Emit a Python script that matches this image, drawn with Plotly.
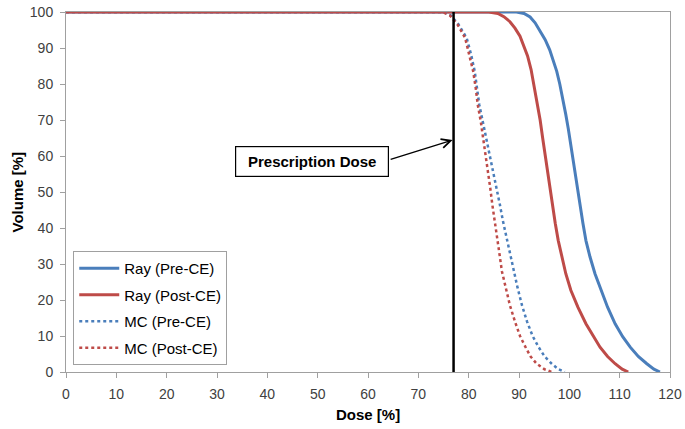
import plotly.graph_objects as go

# Dose-volume data
ray_pre_dose = [0, 89.5, 91.0, 92.2, 93.2, 94.2, 95.2, 96.1, 96.8, 97.5, 98.1, 98.7, 99.3, 99.8, 100.3, 100.8,
                101.3, 101.7, 102.2, 102.7, 103.3, 104.1, 105.1, 106.3, 107.6, 109.1, 110.6, 112.1, 113.7,
                115.4, 116.8, 118.0]
ray_pre_vol = [100, 100, 99.6, 98.6, 97.0, 94.8, 92.3, 89.5, 86.8, 83.5, 80.0, 76.0, 71.5, 67.5, 63.0, 58.0,
               53.0, 49.0, 45.0, 41.3, 36.5, 32.0, 27.3, 22.7, 18.0, 13.4, 9.8, 6.9, 4.3,
               2.3, 0.8, 0]

ray_post_dose = [0, 84.0, 85.8, 87.0, 88.2, 89.2, 90.2, 91.0, 91.7, 92.4, 93.0, 93.6, 94.2, 94.7, 95.2, 95.7,
                 96.2, 96.7, 97.2, 97.8, 98.5, 99.3, 100.3, 101.7, 103.3, 104.7, 106.1, 107.6, 109.1,
                 110.5, 111.7]
ray_post_vol = [100, 100, 99.6, 98.7, 97.3, 95.5, 93.3, 90.5, 87.8, 84.0, 79.5, 75.0, 70.0, 65.0, 60.3, 55.0,
                50.0, 45.5, 41.3, 36.5, 32.0, 27.3, 22.7, 18.0, 13.4, 10.0, 6.9, 4.3, 2.3,
                0.8, 0]

mc_pre_dose = [0, 75.0, 76.5, 78.0, 79.6, 80.5, 81.2, 81.7, 82.1, 82.8, 83.5, 84.1, 84.8, 85.5, 86.2, 86.8,
               87.5, 88.2, 88.9, 89.7, 90.6, 91.6, 92.7, 93.9, 95.1, 96.5, 97.8, 99.1]
mc_pre_vol = [100, 100, 99.0, 96.5, 92.8, 88.1, 83.5, 78.9, 74.3, 69.6, 65.0, 60.3, 55.7, 51.0, 46.5, 42.0,
              37.5, 33.0, 28.0, 23.5, 18.5, 14.0, 10.0, 6.9, 4.3, 2.3, 0.8, 0]

mc_post_dose = [0, 74.8, 76.3, 77.8, 79.3, 80.1, 80.9, 81.4, 81.8, 82.4, 82.9, 83.4, 83.8, 84.3, 84.7, 85.2,
                85.6, 86.1, 86.6, 87.3, 88.2, 89.2, 90.2, 91.3, 92.3, 93.5, 95.0, 96.5]
mc_post_vol = [100, 100, 99.0, 96.5, 92.8, 88.1, 83.5, 78.9, 74.3, 69.6, 65.0, 60.3, 55.7, 51.0, 46.5, 42.0,
               37.5, 33.0, 28.0, 23.5, 18.5, 14.0, 10.0, 6.9, 4.3, 2.3, 0.8, 0]

prescription_dose = 77
arrow_head_vol = 64.5
label_text = "Prescription Dose"
label_dose, label_vol = 48.9, 58.5
arrow_tail_dose, arrow_tail_vol = 64.2, 58.9
x_ticks = list(range(0, 121, 10))
y_ticks = list(range(0, 101, 10))
x_title = "Dose [%]"
y_title = "Volume [%]"

BLUE = "#4A7EBB"
RED = "#BE4B48"
FONT = "Liberation Sans"

fig = go.Figure()
fig.add_trace(go.Scatter(x=ray_pre_dose, y=ray_pre_vol, mode="lines", name="Ray (Pre-CE)", legendgroup="a",
                         line=dict(color=BLUE, width=3)))
fig.add_trace(go.Scatter(x=ray_post_dose, y=ray_post_vol, mode="lines", name="Ray (Post-CE)", legendgroup="b",
                         line=dict(color=RED, width=3)))
fig.add_trace(go.Scatter(x=mc_pre_dose, y=mc_pre_vol, mode="lines", name="MC (Pre-CE)", legendgroup="c",
                         line=dict(color=BLUE, width=2.5, dash="dot")))
fig.add_trace(go.Scatter(x=mc_post_dose, y=mc_post_vol, mode="lines", name="MC (Post-CE)", legendgroup="d",
                         line=dict(color=RED, width=2.5, dash="dot")))

fig.add_shape(type="line", xref="x", yref="y", x0=prescription_dose, x1=prescription_dose,
              y0=0, y1=100, line=dict(color="black", width=2.5))

fig.add_annotation(x=prescription_dose, y=arrow_head_vol, ax=arrow_tail_dose, ay=arrow_tail_vol,
                   xref="x", yref="y", axref="x", ayref="y",
                   showarrow=True, arrowhead=5, arrowsize=1.4, arrowwidth=1.3, arrowcolor="black",
                   text="", standoff=1)
fig.add_annotation(x=label_dose, y=label_vol, xref="x", yref="y",
                   text="<b>" + label_text + "</b>", showarrow=False,
                   font=dict(family=FONT, size=15, color="black"),
                   width=148, height=25, align="center", valign="middle",
                   bordercolor="black", borderwidth=1.2, borderpad=2, bgcolor="white")

# axis titles
fig.add_annotation(x=0.5, y=0, xref="paper", yref="paper", yshift=-42, yanchor="middle",
                   text="<b>" + x_title + "</b>", showarrow=False,
                   font=dict(family=FONT, size=15, color="black"))
fig.add_annotation(x=0, y=0.5, xref="paper", yref="paper", xshift=-49.5, xanchor="center",
                   yanchor="middle", textangle=-90,
                   text="<b>" + y_title + "</b>", showarrow=False,
                   font=dict(family=FONT, size=15, color="black"))

axis_common = dict(showgrid=False, zeroline=False, showline=True, linecolor="#A0A0A0", linewidth=1,
                   mirror=True, ticks="outside", tickcolor="#A0A0A0", ticklen=5, automargin=False,
                   ticklabelstandoff=4, ticklabeloverflow="allow",
                   tickfont=dict(family=FONT, size=14, color="#404040"))

fig.update_layout(
    width=685, height=429,
    margin=dict(l=66, r=15, t=12, b=57),
    paper_bgcolor="white", plot_bgcolor="white",
    xaxis=dict(range=[0, 120], tickvals=x_ticks, **axis_common),
    yaxis=dict(range=[0, 100], tickvals=y_ticks, **axis_common),
    legend=dict(x=0.012, y=0.336, xanchor="left", yanchor="top", bgcolor="white",
                bordercolor="#A0A0A0", borderwidth=1, font=dict(family=FONT, size=15, color="black"),
                tracegroupgap=4, itemwidth=40),
    showlegend=True,
)

fig.write_html("out.html", config={"displayModeBar": False},
               post_script="document.body.style.margin='0px';")
